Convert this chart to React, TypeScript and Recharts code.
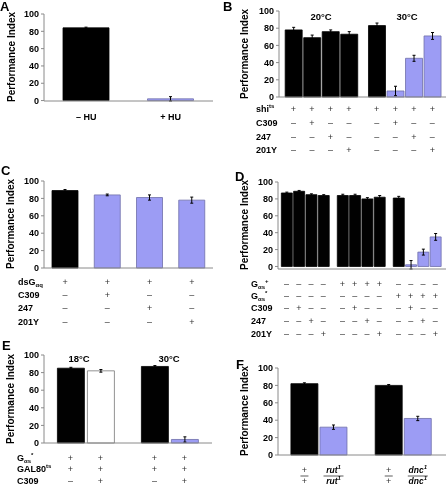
import React from 'react';
import { BarChart, Bar, XAxis, YAxis, ErrorBar, Cell } from 'recharts';

const FONT = '"Liberation Sans", Arial, Helvetica, sans-serif';
const AXIS = '#8a8a8a';
const FILLS: Record<string, { fill: string; stroke: string }> = {
  k: { fill: '#000000', stroke: '#000000' },
  b: { fill: '#9c9cf4', stroke: '#6e6eaa' },
  w: { fill: '#ffffff', stroke: '#777777' },
};

type Seg = [string, '' | 'sub' | 'sup'];

// ---- A ----
const aCategories = ['– HU', '+ HU'];
const aValues = [84, 2];
const aErrors = [0.8, 2.5];
const aFills = ['k', 'b'];

// ---- B ----
const bGroups = [4, 4];
const bValues = [78, 69, 76, 73, 83, 7, 45, 71];
const bErrors = [3, 3, 2, 3, 3, 5.5, 3.5, 4];
const bFills = ['k', 'k', 'k', 'k', 'k', 'b', 'b', 'b'];
const bTemps = ['20°C', '30°C'];
const bRowLabels: Seg[][] = [[['shi', ''], ['ts', 'sup']], [['C309', '']], [['247', '']], [['201Y', '']]];
const bRows = ['++++++++', '-+---+--', '--+---+-', '---+---+'];

// ---- C ----
const cValues = [89, 84, 81, 78];
const cErrors = [1.2, 1, 3, 3.5];
const cFills = ['k', 'b', 'b', 'b'];
const cRowLabels: Seg[][] = [[['dsG', ''], ['αq', 'sub']], [['C309', '']], [['247', '']], [['201Y', '']]];
const cRows = ['++++', '-+--', '--+-', '---+'];

// ---- D ----
const dGroups = [4, 4, 4];
const dValues = [87, 89, 85, 84, 84, 84, 80, 82, 81, 2, 17, 35];
const dErrors = [1, 1, 1, 1, 1.5, 1.5, 1.5, 2, 2, 5, 3.5, 4];
const dFills = ['k', 'k', 'k', 'k', 'k', 'k', 'k', 'k', 'k', 'b', 'b', 'b'];
const dRowLabels: Seg[][] = [
  [['G', ''], ['αs', 'sub'], ['+', 'sup']],
  [['G', ''], ['αs', 'sub'], ['*', 'sup']],
  [['C309', '']],
  [['247', '']],
  [['201Y', '']],
];
const dRows = ['----++++----', '--------++++', '-+---+---+--', '--+---+---+-', '---+---+---+'];

// ---- E ----
const eGroups = [2, 2];
const eValues = [85, 82, 87, 4];
const eErrors = [1, 1.5, 1, 3];
const eFills = ['k', 'w', 'k', 'b'];
const eTemps = ['18°C', '30°C'];
const eRowLabels: Seg[][] = [
  [['G', ''], ['αs', 'sub'], ['*', 'sup']],
  [['GAL80', ''], ['ts', 'sup']],
  [['C309', '']],
];
const eRows = ['++++', '++++', '-+-+'];

// ---- F ----
const fGroups = [2, 2];
const fValues = [82, 32, 80, 42];
const fErrors = [1, 2.5, 1, 2.5];
const fFills = ['k', 'b', 'k', 'b'];
const fGenotypes = ['', 'rut', '', 'dnc'];

const yTicks = [0, 20, 40, 60, 80, 100];

function groupPositions(groups: number[], gap: number) {
  const out: number[] = [];
  let p = 0;
  groups.forEach((n) => {
    for (let i = 0; i < n; i++) out.push(p + i);
    p += n + gap;
  });
  return out;
}

function RichText({ x, y, segs, size = 9 }: { x: number; y: number; segs: Seg[]; size?: number }) {
  let cur = 0;
  return (
    <text x={x} y={y} fontFamily={FONT} fontWeight="bold" fontSize={size} fill="#000" dominantBaseline="central">
      {segs.map(([t, k], i) => {
        const target = k === 'sub' ? 3 : k === 'sup' ? -3.5 : 0;
        const dy = target - cur;
        cur = target;
        return (
          <tspan key={i} dy={dy} fontSize={k ? 6 : size}>
            {t}
          </tspan>
        );
      })}
    </text>
  );
}

function tableTick(rows: string[], rowDy: number[]) {
  return (props: any) => {
    const { x, y, index } = props;
    return (
      <g>
        {rows.map((r, k) => (
          <text
            key={k}
            x={x}
            y={y + rowDy[k]}
            textAnchor="middle"
            dominantBaseline="central"
            fontFamily={FONT}
            fontSize={9}
            fill="#333"
          >
            {r[index] === '+' ? '+' : '–'}
          </text>
        ))}
      </g>
    );
  };
}

function Panel(props: {
  left: number;
  top: number;
  width: number;
  height: number;
  mTop: number;
  mRight: number;
  yWidth: number;
  xHeight: number;
  values: number[];
  errors: number[];
  fills: string[];
  barSize: number;
  tick: any;
  categories?: string[];
  positions?: number[];
  domain?: [number, number];
}) {
  const numeric = !!props.positions;
  const data = props.values.map((v, i) => ({
    x: numeric ? props.positions![i] : props.categories![i],
    v,
    e: props.errors[i],
  }));
  return (
    <div style={{ position: 'absolute', left: props.left, top: props.top, opacity: 0.999, willChange: 'transform' }}>
      <BarChart
        width={props.width}
        height={props.height}
        data={data}
        margin={{ top: props.mTop, right: props.mRight, left: 0, bottom: 0 }}
      >
        {numeric ? (
          <XAxis
            type="number"
            dataKey="x"
            domain={props.domain}
            ticks={props.positions}
            interval={0}
            allowDataOverflow
            tickLine={false}
            tickSize={0}
            tickMargin={0}
            axisLine={{ stroke: AXIS }}
            height={props.xHeight}
            tick={props.tick}
          />
        ) : (
          <XAxis
            dataKey="x"
            interval={0}
            tickLine={false}
            tickSize={0}
            tickMargin={0}
            axisLine={{ stroke: AXIS }}
            height={props.xHeight}
            tick={props.tick}
          />
        )}
        <YAxis
          domain={[0, 100]}
          ticks={yTicks}
          interval={0}
          width={props.yWidth}
          axisLine={{ stroke: AXIS }}
          tickLine={{ stroke: AXIS }}
          tickSize={3}
          tickMargin={2}
          tick={{ fontSize: 9, fontWeight: 'bold', fill: '#000', fontFamily: FONT }}
        />
        <Bar dataKey="v" barSize={props.barSize} isAnimationActive={false}>
          {props.fills.map((f, i) => (
            <Cell key={i} fill={FILLS[f].fill} stroke={FILLS[f].stroke} strokeWidth={0.8} />
          ))}
          <ErrorBar dataKey="e" width={1.5} stroke="#000" strokeWidth={1} direction="y" isAnimationActive={false} />
        </Bar>
      </BarChart>
    </div>
  );
}

const bDy = [12, 26, 40, 53];
const cDy = [14, 27, 40, 54];
const dDy = [15, 27, 39, 52, 65];
const eDy = [15, 26, 38];

const aTick = (p: any) => (
  <text x={p.x} y={p.y + 16} textAnchor="middle" dominantBaseline="central" fontFamily={FONT} fontWeight="bold" fontSize={9}>
    {aCategories[p.index]}
  </text>
);

const fTick = (p: any) => {
  const g = fGenotypes[p.index];
  const w = g ? 10 : 4;
  const part = (y: number) =>
    g ? (
      <text x={p.x} y={y} textAnchor="middle" dominantBaseline="central" fontFamily={FONT} fontStyle="italic" fontWeight="bold" fontSize={8.5}>
        {g}
        <tspan dy={-3} fontSize={6}>1</tspan>
      </text>
    ) : (
      <text x={p.x} y={y} textAnchor="middle" dominantBaseline="central" fontFamily={FONT} fontSize={9} fill="#333">
        +
      </text>
    );
  return (
    <g>
      {part(p.y + 15)}
      <line x1={p.x - w} x2={p.x + w} y1={p.y + 21} y2={p.y + 21} stroke="#333" strokeWidth={0.8} />
      {part(p.y + 26)}
    </g>
  );
};

function YLabel({ x, y }: { x: number; y: number }) {
  return (
    <text
      x={x}
      y={y}
      transform={`rotate(-90, ${x}, ${y})`}
      textAnchor="middle"
      dominantBaseline="central"
      fontFamily={FONT}
      fontWeight="bold"
      fontSize={10}
    >
      Performance Index
    </text>
  );
}

function Letter({ x, y, t }: { x: number; y: number; t: string }) {
  return (
    <text x={x} y={y} fontFamily={FONT} fontWeight="bold" fontSize={13}>
      {t}
    </text>
  );
}

function Temp({ x, y, t }: { x: number; y: number; t: string }) {
  return (
    <text x={x} y={y} textAnchor="middle" dominantBaseline="central" fontFamily={FONT} fontWeight="bold" fontSize={9.5}>
      {t}
    </text>
  );
}

export default function App() {
  const bPos = groupPositions(bGroups, 0.5);
  const dPos = groupPositions(dGroups, 0.55);
  const ePos = groupPositions(eGroups, 0.8);
  const fPos = groupPositions(fGroups, 0.9);

  return (
    <div style={{ position: 'absolute', left: 0, top: 0, width: 446, height: 486, background: '#fff', overflow: 'hidden' }}>
      {/* A: plot 44..213 x 14..101 */}
      <Panel left={0} top={0} width={223} height={126} mTop={14} mRight={10} yWidth={44} xHeight={25}
        values={aValues} errors={aErrors} fills={aFills} barSize={46} categories={aCategories} tick={aTick} />
      {/* B: plot 279..446 x 11..97 */}
      <Panel left={223} top={0} width={223} height={157} mTop={11} mRight={0} yWidth={56} xHeight={60}
        values={bValues} errors={bErrors} fills={bFills} barSize={17} positions={bPos} domain={[-0.78, 8.24]}
        tick={tableTick(bRows, bDy)} />
      {/* C: plot 44..213 x 181..268 */}
      <Panel left={0} top={160} width={223} height={168} mTop={21} mRight={10} yWidth={44} xHeight={60}
        values={cValues} errors={cErrors} fills={cFills} barSize={26} categories={['1', '2', '3', '4']}
        tick={tableTick(cRows, cDy)} />
      {/* D: plot 278..446 x 182..269 */}
      <Panel left={223} top={160} width={223} height={184} mTop={22} mRight={0} yWidth={55} xHeight={75}
        values={dValues} errors={dErrors} fills={dFills} barSize={11} positions={dPos} domain={[-0.69, 12.97]}
        tick={tableTick(dRows, dDy)} />
      {/* E: plot 44..212 x 355..443 */}
      <Panel left={0} top={320} width={223} height={168} mTop={35} mRight={11} yWidth={44} xHeight={45}
        values={eValues} errors={eErrors} fills={eFills} barSize={27} positions={ePos} domain={[-0.88, 4.72]}
        tick={tableTick(eRows, eDy)} />
      {/* F: plot 278..446 x 368..455 */}
      <Panel left={223} top={320} width={223} height={166} mTop={48} mRight={0} yWidth={55} xHeight={31}
        values={fValues} errors={fErrors} fills={fFills} barSize={27} positions={fPos} domain={[-0.91, 4.87]}
        tick={fTick} />

      <svg width={446} height={486} style={{ position: 'absolute', left: 0, top: 0, pointerEvents: 'none' }}>
        <Letter x={0} y={11} t="A" />
        <Letter x={223} y={11} t="B" />
        <Letter x={1} y={175} t="C" />
        <Letter x={235} y={181} t="D" />
        <Letter x={2} y={350} t="E" />
        <Letter x={236} y={369} t="F" />

        <YLabel x={11} y={57} />
        <YLabel x={244} y={54} />
        <YLabel x={10} y={224} />
        <YLabel x={244} y={225} />
        <YLabel x={10} y={399} />
        <YLabel x={244} y={411} />

        <Temp x={321} y={16} t={bTemps[0]} />
        <Temp x={407} y={16} t={bTemps[1]} />
        <Temp x={79} y={358} t={eTemps[0]} />
        <Temp x={169} y={358} t={eTemps[1]} />

        {bRowLabels.map((s, i) => <RichText key={'b' + i} x={256} y={97 + bDy[i]} segs={s} />)}
        {cRowLabels.map((s, i) => <RichText key={'c' + i} x={18} y={268 + cDy[i]} segs={s} />)}
        {dRowLabels.map((s, i) => <RichText key={'d' + i} x={251} y={269 + dDy[i]} segs={s} />)}
        {eRowLabels.map((s, i) => <RichText key={'e' + i} x={17} y={443 + eDy[i]} segs={s} />)}
      </svg>
    </div>
  );
}
